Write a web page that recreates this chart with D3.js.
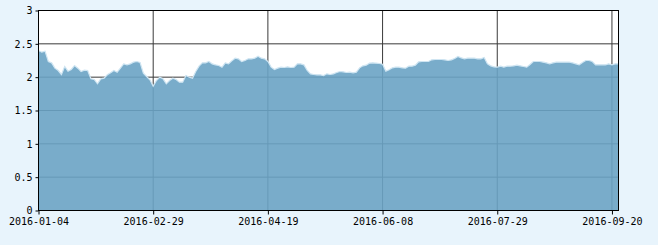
<!DOCTYPE html>
<html>
<head>
<meta charset="utf-8">
<script src="https://cdn.jsdelivr.net/npm/d3@7/dist/d3.min.js"></script>
<style>
  html, body { margin: 0; padding: 0; background: #e8f4fc; }
  svg { display: block; }
  .tick text { font-family: "DejaVu Sans Mono", monospace; font-size: 10px; fill: #000; }
</style>
</head>
<body>
<div id="chart"></div>
<script>
// daily values, one per trading day (2016-01-04 .. 2016-09-22)
var values = [
  2.40, 2.375, 2.39, 2.235, 2.215, 2.135, 2.10, 2.04, 2.16, 2.09,
  2.115, 2.175, 2.135, 2.085, 2.105, 2.10, 1.975, 1.965, 1.90, 1.975,
  1.985, 2.035, 2.065, 2.10, 2.075, 2.135, 2.20, 2.185, 2.20, 2.225,
  2.235, 2.22, 2.06, 2.01, 1.96, 1.865, 1.95, 2.00, 1.975, 1.90,
  1.95, 1.985, 1.965, 1.925, 1.925, 2.025, 2.00, 1.985, 2.085, 2.165,
  2.215, 2.215, 2.235, 2.20, 2.185, 2.175, 2.15, 2.215, 2.20, 2.245,
  2.285, 2.275, 2.235, 2.25, 2.275, 2.275, 2.285, 2.315, 2.285, 2.275,
  2.235, 2.15, 2.115, 2.135, 2.15, 2.145, 2.155, 2.145, 2.15, 2.20,
  2.20, 2.185, 2.10, 2.05, 2.04, 2.035, 2.035, 2.025, 2.05, 2.04,
  2.05, 2.07, 2.085, 2.08, 2.07, 2.075, 2.065, 2.075, 2.14, 2.17,
  2.18, 2.21, 2.215, 2.21, 2.205, 2.195, 2.09, 2.11, 2.14, 2.15,
  2.15, 2.14, 2.135, 2.165, 2.165, 2.18, 2.23, 2.235, 2.235, 2.235,
  2.26, 2.265, 2.265, 2.265, 2.26, 2.25, 2.26, 2.28, 2.31, 2.29,
  2.275, 2.285, 2.285, 2.285, 2.275, 2.275, 2.295, 2.20, 2.17, 2.155,
  2.15, 2.165, 2.15, 2.165, 2.165, 2.17, 2.18, 2.17, 2.16, 2.15,
  2.19, 2.235, 2.235, 2.235, 2.225, 2.215, 2.20, 2.215, 2.225, 2.225,
  2.225, 2.225, 2.225, 2.215, 2.20, 2.185, 2.22, 2.25, 2.25, 2.235,
  2.185, 2.185, 2.185, 2.185, 2.20, 2.185, 2.20, 2.20
];

// labelled positions on the x axis (index into values) and their dates
var tickIndex = [0, 35, 70, 105, 140, 175];
var tickLabels = ["2016-01-04", "2016-02-29", "2016-04-19", "2016-06-08", "2016-07-29", "2016-09-20"];

var yTicks = [0, 0.5, 1, 1.5, 2, 2.5, 3];

var svgWidth = 658;
var svgHeight = 245;

var margin = { top: 10.5, right: 39.5, bottom: 34.5, left: 38.5 };
var width = svgWidth - margin.left - margin.right;
var height = svgHeight - margin.top - margin.bottom;

var svg = d3.select("#chart")
  .append("svg")
  .attr("width", svgWidth)
  .attr("height", svgHeight);

var chartGroup = svg.append("g")
  .attr("transform", `translate(${margin.left}, ${margin.top})`);

// scales
var xScale = d3.scaleLinear()
  .domain([0, values.length - 1])
  .range([0, width]);

var yScale = d3.scaleLinear()
  .domain([0, 3])
  .range([height, 0]);

// plot background
chartGroup.append("rect")
  .attr("width", width)
  .attr("height", height)
  .attr("fill", "#fff");

// grid lines, drawn under a slightly see-through area
chartGroup.append("g")
  .selectAll("line")
  .data(yTicks.slice(1, -1))
  .enter()
  .append("line")
  .attr("x1", 0)
  .attr("x2", width)
  .attr("y1", d => yScale(d))
  .attr("y2", d => yScale(d))
  .attr("stroke", "#3a3a3a");

chartGroup.append("g")
  .selectAll("line")
  .data(tickIndex.slice(1))
  .enter()
  .append("line")
  .attr("x1", d => xScale(d))
  .attr("x2", d => xScale(d))
  .attr("y1", 0)
  .attr("y2", height)
  .attr("stroke", "#3a3a3a");

// area
var area = d3.area()
  .x((d, i) => xScale(i))
  .y0(yScale(0))
  .y1(d => yScale(d));

chartGroup.append("path")
  .datum(values)
  .attr("d", area)
  .attr("fill", "#6aa3c4")
  .attr("fill-opacity", 0.9);

// light edge along the top of the area
var line = d3.line()
  .x((d, i) => xScale(i))
  .y(d => yScale(d));

chartGroup.append("path")
  .datum(values)
  .attr("d", line)
  .attr("fill", "none")
  .attr("stroke", "#cfe5f2")
  .attr("stroke-width", 1.2);

// frame
chartGroup.append("rect")
  .attr("width", width)
  .attr("height", height)
  .attr("fill", "none")
  .attr("stroke", "#000");

// axes
var bottomAxis = d3.axisBottom(xScale)
  .tickValues(tickIndex)
  .tickFormat((d, i) => tickLabels[i])
  .tickSizeOuter(0)
  .tickSizeInner(4)
  .tickPadding(3);

var leftAxis = d3.axisLeft(yScale)
  .tickValues(yTicks)
  .tickFormat(d => d === 0 ? "0" : String(d))
  .tickSizeOuter(0)
  .tickSizeInner(3)
  .tickPadding(3);

var xAxis = chartGroup.append("g")
  .attr("transform", `translate(0, ${height})`)
  .call(bottomAxis);

var yAxis = chartGroup.append("g")
  .call(leftAxis);

xAxis.select(".domain").remove();
yAxis.select(".domain").remove();
xAxis.selectAll(".tick line").attr("stroke", "#000");
yAxis.selectAll(".tick line").attr("stroke", "#000");
</script>
</body>
</html>
